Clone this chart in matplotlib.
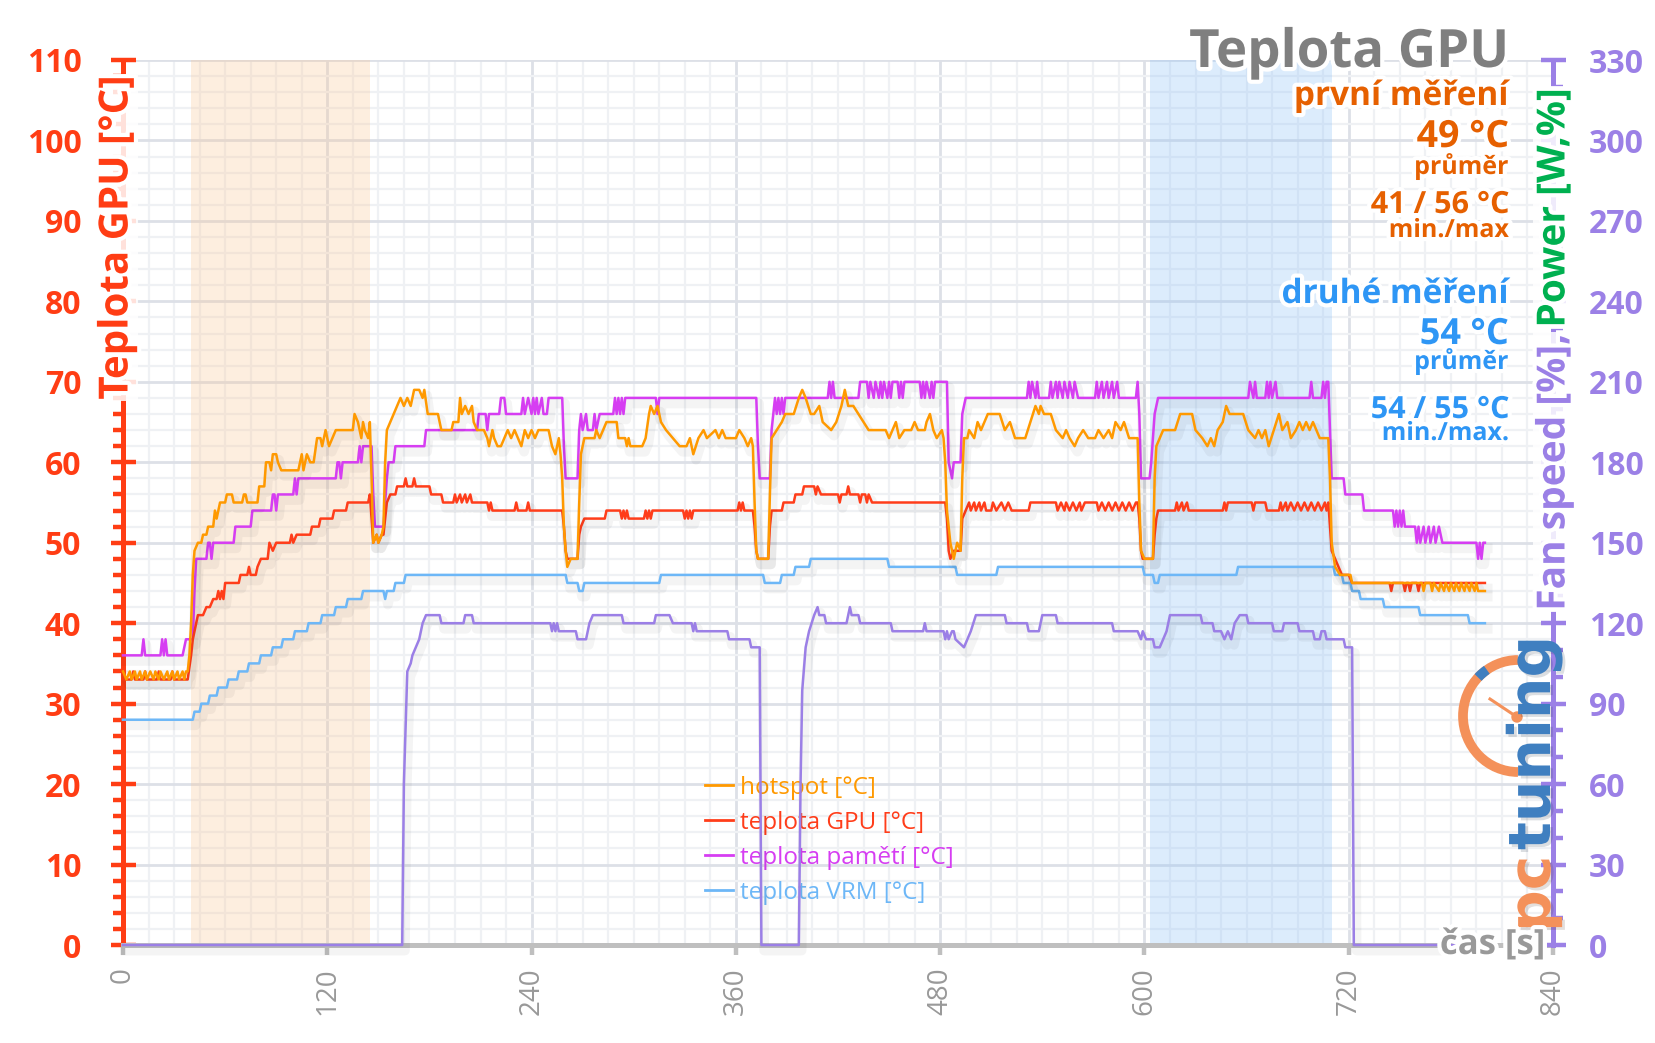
import matplotlib
matplotlib.use('Agg')
import matplotlib.pyplot as plt
import matplotlib.patheffects as pe
from matplotlib.patches import Arc, Circle
from matplotlib.ticker import MultipleLocator

plt.rcParams['font.family'] = ['Open Sans', 'DejaVu Sans']

# ---- data (time [s], value) ----
hot_t = [0, 2, 4, 5, 7, 8, 10, 11, 13, 14, 16, 18, 19, 21, 22, 24, 26, 27, 29, 30, 32, 33, 35, 36, 37, 38,
         39, 40, 41, 42, 44, 46, 47, 49, 50, 53, 54, 55, 56, 57, 60, 61, 64, 65, 70, 71, 72, 73, 79, 80, 83, 84,
         86, 87, 88, 90, 91, 93, 103, 105, 106, 108, 110, 112, 114, 116, 117, 119, 121, 123, 125, 135, 136, 138,
         140, 141, 142, 144, 145, 146, 147, 149, 150, 152, 153, 154, 155, 157, 159, 161, 163, 165, 167, 169, 171,
         174, 176, 177, 179, 185, 187, 193, 194, 197, 198, 199, 201, 203, 205, 206, 208, 212, 214, 215, 217, 218,
         220, 222, 224, 226, 228, 230, 232, 234, 236, 238, 240, 242, 244, 250, 252, 254, 256, 257, 258, 259, 260,
         261, 263, 267, 268, 269, 271, 277, 278, 280, 284, 290, 291, 295, 296, 297, 298, 305, 307, 309, 310, 312,
         314, 316, 319, 323, 327, 331, 333, 335, 338, 341, 343, 348, 350, 352, 354, 360, 362, 365, 367, 369, 370,
         371, 372, 373, 379, 380, 381, 384, 387, 389, 394, 397, 399, 401, 404, 406, 409, 411, 416, 419, 422, 424,
         426, 429, 432, 435, 438, 448, 450, 454, 456, 459, 463, 465, 467, 471, 472, 474, 476, 478, 481, 482, 483,
         484, 486, 488, 490, 492, 493, 494, 496, 497, 500, 502, 504, 506, 508, 515, 518, 521, 524, 530, 533, 536,
         538, 539, 541, 545, 548, 552, 554, 556, 559, 561, 564, 567, 571, 573, 576, 579, 581, 583, 586, 588, 591,
         596, 597, 598, 600, 605, 606, 607, 609, 611, 618, 621, 628, 630, 634, 637, 639, 641, 643, 646, 648, 650,
         658, 661, 665, 667, 669, 671, 673, 676, 679, 681, 684, 686, 689, 691, 693, 695, 697, 699, 701, 703, 708,
         709, 710, 712, 715, 721, 722, 763, 764, 765, 768, 769, 770, 773, 774, 776, 777, 779, 780, 782, 783, 785,
         786, 788, 789, 791, 792, 794, 795, 796, 800]
hot_v = [34, 33, 34, 33, 34, 33, 34, 33, 34, 33, 34, 33, 34, 33, 34, 33, 34, 33, 34, 33, 34, 33, 34, 33, 34, 34,
         36, 40, 46, 49, 50, 50, 51, 51, 52, 52, 54, 53, 54, 55, 55, 56, 56, 55, 55, 56, 56, 55, 55, 57, 57, 60,
         60, 59, 61, 61, 60, 59, 59, 61, 59, 61, 60, 60, 63, 63, 62, 64, 62, 63, 64, 64, 66, 65,
         63, 65, 64, 63, 65, 58, 50, 51, 50, 51, 52, 60, 64, 65, 66, 67, 68, 67, 68, 67, 69,
         69, 68, 69, 66, 66, 64, 64, 65, 65, 68, 66, 67, 66, 67, 65, 64, 64, 63, 62, 64, 63,
         62, 62, 63, 64, 63, 64, 63, 62, 64, 63, 64, 63, 64, 64, 62, 61, 63, 61, 58, 52, 49,
         47, 48, 48, 55, 61, 63, 63, 64, 63, 65, 65, 63, 63, 62, 63, 62, 62, 63, 66, 67, 66,
         67, 65, 64, 63, 62, 62, 63, 61, 63, 64, 63, 64, 63, 64, 63, 63, 64, 63, 62, 63, 62,
         55, 49, 48, 48, 56, 63, 64, 65, 66, 66, 68, 69, 68, 66, 66, 67, 65, 64, 65, 67, 69,
         67, 67, 66, 65, 64, 64, 63, 65, 63, 64, 64, 65, 64, 64, 65, 66, 64, 63, 64, 63, 60,
         54, 50, 48, 50, 49, 58, 63, 63, 64, 63, 65, 64, 65, 66, 66, 64, 65, 63, 63, 65, 67,
         66, 67, 66, 66, 64, 63, 64, 63, 62, 63, 64, 63, 63, 64, 63, 64, 63, 65, 64, 65, 63,
         63, 55, 49, 48, 48, 58, 62, 63, 64, 64, 66, 66, 64, 63, 62, 63, 62, 64, 65, 67, 66,
         66, 64, 63, 64, 63, 64, 62, 64, 66, 64, 65, 63, 64, 65, 64, 65, 64, 65, 64, 63, 63,
         58, 50, 47, 46, 46, 45, 45, 44, 45, 45, 44, 45, 44, 45, 44, 45, 44, 45, 44, 45, 44,
         45, 44, 45, 44, 45, 44, 45, 44, 44]

gpu_t = [0, 5, 6, 7, 12, 13, 14, 20, 21, 22, 28, 29, 30, 38, 40, 41, 43, 44, 47, 49, 51, 53, 55, 56, 57, 58, 59,
         60, 68, 69, 73, 74, 75, 78, 79, 81, 85, 86, 88, 90, 98, 99, 100, 102, 110, 111, 115, 116, 123, 124, 131,
         132, 144, 145, 146, 147, 149, 150, 152, 153, 155, 157, 160, 161, 165, 166, 167, 170, 171, 172, 180, 181,
         187, 188, 194, 195, 196, 198, 199, 201, 202, 204, 205, 214, 215, 216, 217, 230, 231, 232, 237, 238, 239,
         258, 259, 260, 261, 267, 268, 269, 271, 283, 284, 292, 293, 294, 295, 296, 297, 306, 307, 308, 309, 310,
         311, 329, 330, 331, 332, 333, 334, 335, 361, 362, 363, 364, 365, 370, 371, 372, 373, 379, 380, 381, 387,
         388, 394, 395, 399, 400, 406, 407, 408, 410, 420, 421, 422, 425, 426, 427, 432, 433, 434, 436, 437, 438,
         440, 483, 484, 485, 486, 488, 492, 493, 495, 497, 498, 500, 501, 503, 504, 506, 507, 510, 511, 513, 516,
         518, 520, 522, 532, 533, 548, 549, 551, 553, 554, 556, 558, 560, 562, 563, 565, 572, 573, 575, 577, 579,
         581, 583, 585, 587, 589, 591, 593, 595, 596, 597, 598, 599, 605, 606, 607, 608, 618, 619, 620, 622, 623,
         625, 626, 646, 647, 648, 649, 663, 664, 665, 671, 672, 679, 680, 681, 683, 684, 686, 688, 690, 692, 694,
         696, 698, 700, 702, 704, 706, 707, 708, 709, 710, 712, 714, 716, 720, 722, 744, 745, 746, 752, 753, 754,
         755, 756, 757, 760, 761, 762, 800]
gpu_v = [33, 33, 34, 33, 33, 34, 33, 33, 34, 33, 33, 34, 33, 33, 36, 38, 40, 41, 41, 42, 42, 43, 43, 44, 43, 44, 43,
         45, 45, 46, 46, 47, 46, 46, 47, 48, 48, 50, 49, 50, 50, 51, 50, 51, 51, 52, 52, 53, 53, 54, 54,
         55, 55, 56, 53, 50, 51, 50, 51, 51, 55, 56, 56, 57, 57, 58, 57, 57, 58, 57, 57, 56,
         56, 55, 55, 56, 55, 56, 55, 56, 55, 56, 55, 55, 54, 55, 54, 54, 55, 54, 54, 55, 54,
         54, 52, 49, 48, 48, 51, 52, 53, 53, 54, 54, 53, 54, 53, 54, 53, 53, 54, 53, 54, 53,
         54, 54, 53, 54, 53, 54, 53, 54, 54, 55, 54, 55, 54, 54, 52, 49, 48, 48, 52, 54, 54,
         55, 55, 56, 56, 57, 57, 56, 57, 56, 56, 55, 56, 56, 57, 56, 56, 55, 56, 56, 55, 56,
         55, 55, 53, 49, 48, 49, 49, 53, 54, 55, 54, 55, 54, 55, 54, 55, 54, 54, 55, 54, 55,
         54, 55, 54, 54, 55, 55, 54, 55, 54, 55, 54, 55, 54, 55, 54, 55, 55, 54, 55, 54, 55,
         54, 55, 54, 55, 54, 55, 54, 55, 55, 53, 49, 48, 48, 51, 53, 54, 54, 55, 54, 55, 54,
         55, 54, 54, 55, 54, 55, 55, 54, 55, 55, 54, 54, 55, 54, 55, 54, 55, 54, 55, 54, 55,
         54, 55, 54, 55, 54, 55, 54, 55, 52, 49, 48, 47, 46, 46, 45, 45, 44, 45, 45, 44, 45,
         45, 44, 45, 45, 44, 45, 45]

mem_t = [0, 11, 12, 13, 22, 23, 24, 25, 26, 35, 37, 41, 42, 43, 49, 50, 51, 52, 53, 65, 66, 75, 76, 87, 88, 89, 90,
         91, 100, 101, 102, 103, 125, 126, 127, 128, 129, 138, 139, 140, 141, 146, 147, 148, 153, 155, 156, 159,
         160, 177, 178, 208, 209, 213, 214, 215, 221, 222, 224, 225, 234, 235, 236, 238, 240, 241, 242, 243, 244,
         246, 247, 249, 250, 258, 259, 260, 267, 268, 269, 270, 272, 273, 276, 277, 278, 280, 288, 289, 290, 291,
         292, 293, 294, 295, 297, 313, 314, 315, 372, 373, 374, 380, 381, 382, 383, 384, 385, 386, 387, 388, 389,
         414, 415, 416, 417, 418, 432, 433, 437, 438, 439, 441, 442, 444, 445, 446, 447, 449, 450, 451, 452, 455,
         456, 457, 458, 459, 461, 468, 469, 470, 471, 472, 474, 475, 476, 477, 484, 485, 487, 488, 492, 493, 495,
         531, 532, 533, 534, 536, 537, 538, 544, 545, 546, 548, 549, 550, 552, 553, 555, 556, 558, 559, 561, 571,
         572, 573, 575, 576, 578, 579, 581, 582, 584, 585, 595, 596, 597, 598, 603, 604, 606, 608, 661, 662, 664,
         665, 666, 671, 672, 673, 674, 675, 677, 678, 697, 698, 699, 704, 705, 706, 707, 708, 709, 710, 717, 718,
         728, 729, 746, 747, 748, 749, 750, 751, 752, 753, 759, 760, 761, 762, 764, 765, 767, 768, 770, 771, 773,
         775, 795, 796, 797, 798, 799, 800]
mem_v = [36, 36, 38, 36, 36, 38, 36, 38, 36, 36, 38, 38, 44, 48, 48, 50, 50, 48, 50, 50, 52, 52, 54, 54, 56, 56, 54,
         56, 56, 58, 56, 58, 58, 60, 60, 58, 60, 60, 62, 60, 62, 62, 56, 52, 52, 58, 60, 60,
         62, 62, 64, 64, 66, 66, 64, 66, 66, 68, 68, 66, 66, 68, 66, 68, 66, 68, 66, 68, 66,
         68, 66, 66, 68, 68, 62, 58, 58, 64, 66, 64, 66, 64, 64, 66, 64, 66, 66, 68, 66, 68,
         66, 68, 66, 68, 68, 68, 66, 68, 68, 62, 58, 58, 64, 66, 68, 66, 68, 66, 68, 66, 68,
         68, 70, 68, 70, 68, 68, 70, 70, 68, 70, 68, 70, 68, 70, 68, 70, 68, 70, 68, 70, 70,
         68, 70, 68, 70, 70, 70, 68, 70, 68, 70, 68, 70, 68, 70, 70, 60, 58, 60, 60, 66, 68,
         68, 70, 68, 70, 68, 70, 68, 68, 70, 68, 70, 68, 70, 68, 70, 68, 70, 68, 70, 68, 68,
         70, 68, 70, 68, 70, 68, 70, 68, 70, 68, 68, 70, 66, 58, 58, 60, 66, 68, 68, 70, 68,
         70, 68, 68, 70, 68, 70, 68, 70, 68, 68, 70, 68, 68, 70, 68, 70, 70, 64, 58, 58, 56,
         56, 54, 54, 52, 54, 52, 54, 52, 54, 52, 52, 50, 52, 50, 52, 50, 52, 50, 52, 50, 52,
         50, 50, 48, 50, 48, 50, 50]

vrm_t = [0, 41, 42, 45, 46, 50, 51, 55, 56, 61, 62, 67, 68, 73, 74, 80, 81, 87, 88, 93, 94, 100, 101, 108, 109, 116,
         117, 124, 125, 131, 132, 140, 141, 153, 154, 155, 159, 160, 165, 166, 260, 261, 267, 268, 270, 271, 315,
         316, 376, 377, 386, 387, 394, 395, 403, 404, 449, 450, 489, 490, 513, 514, 599, 600, 605, 606, 608, 609,
         654, 655, 711, 712, 716, 717, 721, 722, 726, 727, 740, 741, 761, 762, 790, 791, 800]
vrm_v = [28, 28, 29, 29, 30, 30, 31, 31, 32, 32, 33, 33, 34, 34, 35, 35, 36, 36, 37, 37, 38, 38, 39, 39, 40, 40,
         41, 41, 42, 42, 43, 43, 44, 44, 43, 44, 44, 45, 45, 46, 46, 45, 45, 44, 44, 45, 45,
         46, 46, 45, 45, 46, 46, 47, 47, 48, 48, 47, 47, 46, 46, 47, 47, 46, 46, 45, 45, 46,
         46, 47, 47, 46, 46, 45, 45, 44, 44, 43, 43, 42, 42, 41, 41, 40, 40]

fan_t = [0, 164, 165, 167, 169, 170, 172, 174, 176, 178, 186, 187, 200, 201, 205, 206, 251, 252, 253, 254, 255, 256,
         266, 267, 272, 274, 276, 293, 294, 312, 313, 321, 323, 334, 335, 336, 337, 355, 356, 368, 369, 374, 375,
         397, 398, 399, 401, 403, 406, 408, 409, 412, 413, 425, 426, 427, 428, 432, 433, 451, 452, 470, 471, 472,
         482, 483, 484, 485, 487, 488, 489, 494, 496, 498, 501, 518, 519, 531, 532, 538, 540, 548, 549, 581, 582,
         596, 598, 599, 601, 605, 606, 609, 613, 615, 633, 634, 640, 641, 645, 647, 649, 651, 653, 656, 660, 661,
         675, 676, 681, 682, 690, 691, 699, 700, 703, 704, 706, 707, 717, 718, 722, 723, 800]
fan_v = [0, 0, 60, 102, 105, 108, 111, 114, 120, 123, 123, 120, 120, 123, 123, 120, 120, 117, 120, 117, 120, 117,
         117, 114, 114, 120, 123, 123, 120, 120, 123, 123, 120, 120, 117, 120, 117, 117, 114, 114, 111, 111, 0,
         0, 60, 95, 111, 117, 123, 126, 123, 123, 120, 120, 123, 126, 123, 123, 120, 120, 117, 117, 120, 117,
         117, 114, 117, 114, 117, 117, 114, 111, 114, 117, 123, 123, 120, 120, 117, 117, 123, 123, 120, 120, 117,
         117, 114, 117, 114, 114, 111, 111, 117, 123, 123, 120, 120, 117, 117, 114, 117, 114, 120, 123, 123, 120,
         120, 117, 117, 120, 120, 117, 117, 114, 114, 117, 117, 114, 114, 111, 111, 0, 0]

x_ticks = [0, 120, 240, 360, 480, 600, 720, 840]
y_ticks = [0, 10, 20, 30, 40, 50, 60, 70, 80, 90, 100, 110]
y2_ticks = [0, 30, 60, 90, 120, 150, 180, 210, 240, 270, 300, 330]
first_span = [40, 145]
second_span = [603, 710]
labels = ['hotspot [°C]', 'teplota GPU [°C]', 'teplota pamětí [°C]', 'teplota VRM [°C]']
info = [('Teplota GPU', 67, 38, 'g'),
        ('první měření', 105, 24, 'o'), ('49 °C', 147, 27, 'o'), ('průměr', 174, 18, 'o'),
        ('41 / 56 °C', 213, 22, 'o'), ('min./max', 237, 18, 'o'),
        ('druhé měření', 303, 24, 'b'), ('54 °C', 344, 26, 'b'), ('průměr', 369, 18, 'b'),
        ('54 / 55 °C', 418, 22, 'b'), ('min./max.', 440, 18, 'b')]

# ---- colours ----
RED = '#ff3d14'
LAV = '#9b80e6'
GREEN = '#00b050'
GRAYAX = '#bfbfbf'
c_hot, c_gpu, c_mem, c_vrm, c_fan = '#ff9900', '#ff3d1a', '#d63df2', '#6db7f7', '#9b7fe6'
txt_col = {'g': '#7f7f7f', 'o': '#e66000', 'b': '#2e96f5'}

W, H = 1656, 1043
fig = plt.figure(figsize=(W / 100, H / 100), dpi=100)
fig.patch.set_facecolor('white')
glow = [pe.withStroke(linewidth=6, foreground='white')]
white_box = dict(facecolor='white', edgecolor='none', alpha=0.85, pad=1)

L, R, T, B = 123, 1553, 60, 945
ax = fig.add_axes([L / W, 1 - B / H, (R - L) / W, (B - T) / H])
ax.patch.set_visible(False)
ax.set_zorder(2)
ax.set_xlim(0, 840)
ax.set_ylim(0, 110)

ax.xaxis.set_minor_locator(MultipleLocator(15))
ax.yaxis.set_minor_locator(MultipleLocator(2))
ax.set_xticks(x_ticks)
ax.set_xticklabels([str(x) for x in x_ticks])
ax.set_yticks(y_ticks)
ax.set_yticklabels([str(y) for y in y_ticks], fontweight='bold')
ax.set_axisbelow(True)
ax.grid(which='major', color='#dde0e7', lw=2.0)
ax.grid(which='minor', color='#eff1f4', lw=1.6)

ax.tick_params(axis='y', which='major', direction='inout', length=18, width=3.2, color=RED,
               labelcolor=RED, labelsize=23, pad=21)
ax.tick_params(axis='y', which='minor', direction='out', length=7, width=3.2, color=RED)
ax.tick_params(axis='x', which='major', direction='out', length=7, width=3.2, color=GRAYAX,
               labelcolor='#999999', labelsize=20, labelrotation=90, pad=9)
ax.tick_params(axis='x', which='minor', length=0)
for s in ['top', 'right']:
    ax.spines[s].set_visible(False)
ax.spines['left'].set_color(RED)
ax.spines['left'].set_linewidth(3.6)
ax.spines['bottom'].set_color(GRAYAX)
ax.spines['bottom'].set_linewidth(3.6)

ax.axvspan(first_span[0], first_span[1], color='#f9c898', alpha=0.3, lw=0, zorder=1)
ax.axvspan(second_span[0], second_span[1], color='#8ec2f8', alpha=0.3, lw=0, zorder=1)

shadow = [pe.SimpleLineShadow(offset=(2, -4), shadow_color='k', alpha=0.045, linewidth=7),
          pe.Normal()]
hv = ax.plot(vrm_t, vrm_v, color=c_vrm, lw=1.8, path_effects=shadow, clip_on=False, zorder=3)[0]
hm = ax.plot(mem_t, mem_v, color=c_mem, lw=1.8, path_effects=shadow, clip_on=False, zorder=3)[0]
hg = ax.plot(gpu_t, gpu_v, color=c_gpu, lw=1.8, path_effects=shadow, clip_on=False, zorder=3)[0]
hh = ax.plot(hot_t, hot_v, color=c_hot, lw=1.8, path_effects=shadow, clip_on=False, zorder=3)[0]

leg = ax.legend([hh, hg, hm, hv], labels, loc='upper left', bbox_to_anchor=(705 / W, 1 - 776 / H),
                bbox_transform=fig.transFigure, frameon=False, fontsize=17.5, handlelength=1.15,
                handletextpad=0.3, labelspacing=0.45, borderpad=0, borderaxespad=0, labelcolor='linecolor')
for h in leg.legend_handles:
    h.set_path_effects([])
    h.set_linewidth(2)

ax2 = ax.twinx()
ax2.set_zorder(3)
ax2.set_ylim(0, 330)
ax2.set_yticks(y2_ticks)
ax2.set_yticklabels([str(y) for y in y2_ticks], fontweight='bold')
ax2.yaxis.set_minor_locator(MultipleLocator(10))
ax2.tick_params(axis='y', which='major', direction='inout', length=18, width=3.2, color=LAV,
                labelcolor=LAV, labelsize=23, pad=17)
ax2.tick_params(axis='y', which='minor', direction='out', length=7, width=3.2, color=LAV)
for s in ['top', 'left', 'bottom']:
    ax2.spines[s].set_visible(False)
ax2.spines['right'].set_color(LAV)
ax2.spines['right'].set_linewidth(3.6)
ax2.plot(fan_t, fan_v, color=c_fan, lw=1.8, path_effects=shadow, clip_on=False, zorder=3)

# ---- axis titles ----
fig.text(117 / W, 1 - 76 / H, 'Teplota GPU [°C]', rotation=90, ha='center', va='top', color=RED,
         fontsize=29, fontweight='bold', path_effects=glow, bbox=white_box, zorder=6)
rend = fig.canvas.get_renderer()
tp = fig.text(1554 / W, 1 - 88 / H, 'Power [W,%]', rotation=90, ha='center', va='top', color=GREEN,
              fontsize=28, fontweight='bold', path_effects=glow, bbox=white_box, zorder=6)
bb = tp.get_window_extent(rend)
fig.text(1554 / W, (bb.y0 - 6) / H, 'Fan speed [%],', rotation=90, ha='center', va='top', color=LAV,
         fontsize=28, fontweight='bold', path_effects=glow, bbox=white_box, zorder=6)
fig.text(1545 / W, 1 - 945 / H, 'čas [s]', ha='right', va='center', color='#999999',
         fontsize=25, fontweight='bold', path_effects=glow, zorder=6)

for s, y, fs, c in info:
    fig.text(1509 / W, 1 - y / H, s, ha='right', va='baseline', color=txt_col[c], fontsize=fs,
             fontweight='bold', path_effects=glow, zorder=6)

# ---- logo ----
ov = fig.add_axes([0, 0, 1, 1])
ov.set_zorder(5)
ov.patch.set_visible(False)
ov.set_xlim(0, W)
ov.set_ylim(H, 0)
ov.axis('off')
LOGO_O, LOGO_B = '#f4915a', '#3f7fc0'
logo_sh = [pe.withSimplePatchShadow(offset=(2, -2), alpha=0.15)]
ov.add_patch(Arc((1518, 716), 110, 112, theta1=90, theta2=270, lw=7, color=LOGO_O))
ov.add_patch(Arc((1518, 716), 110, 112, theta1=224, theta2=236, lw=7, color=LOGO_B))
ov.plot([1517, 1490], [717, 699], color=LOGO_O, lw=2.2)
ov.add_patch(Circle((1517, 717), 5, color=LOGO_O))
ov.text(1550, 932, 'pc', rotation=90, rotation_mode='anchor', ha='left', va='baseline',
        color=LOGO_O, fontsize=42, fontweight='bold', family='DejaVu Sans', path_effects=logo_sh)
ov.text(1550, 850, 'tuning', rotation=90, rotation_mode='anchor', ha='left', va='baseline',
        color=LOGO_B, fontsize=42, fontweight='bold', family='DejaVu Sans', path_effects=logo_sh)

fig.savefig('out.png', dpi=100, facecolor='white')
